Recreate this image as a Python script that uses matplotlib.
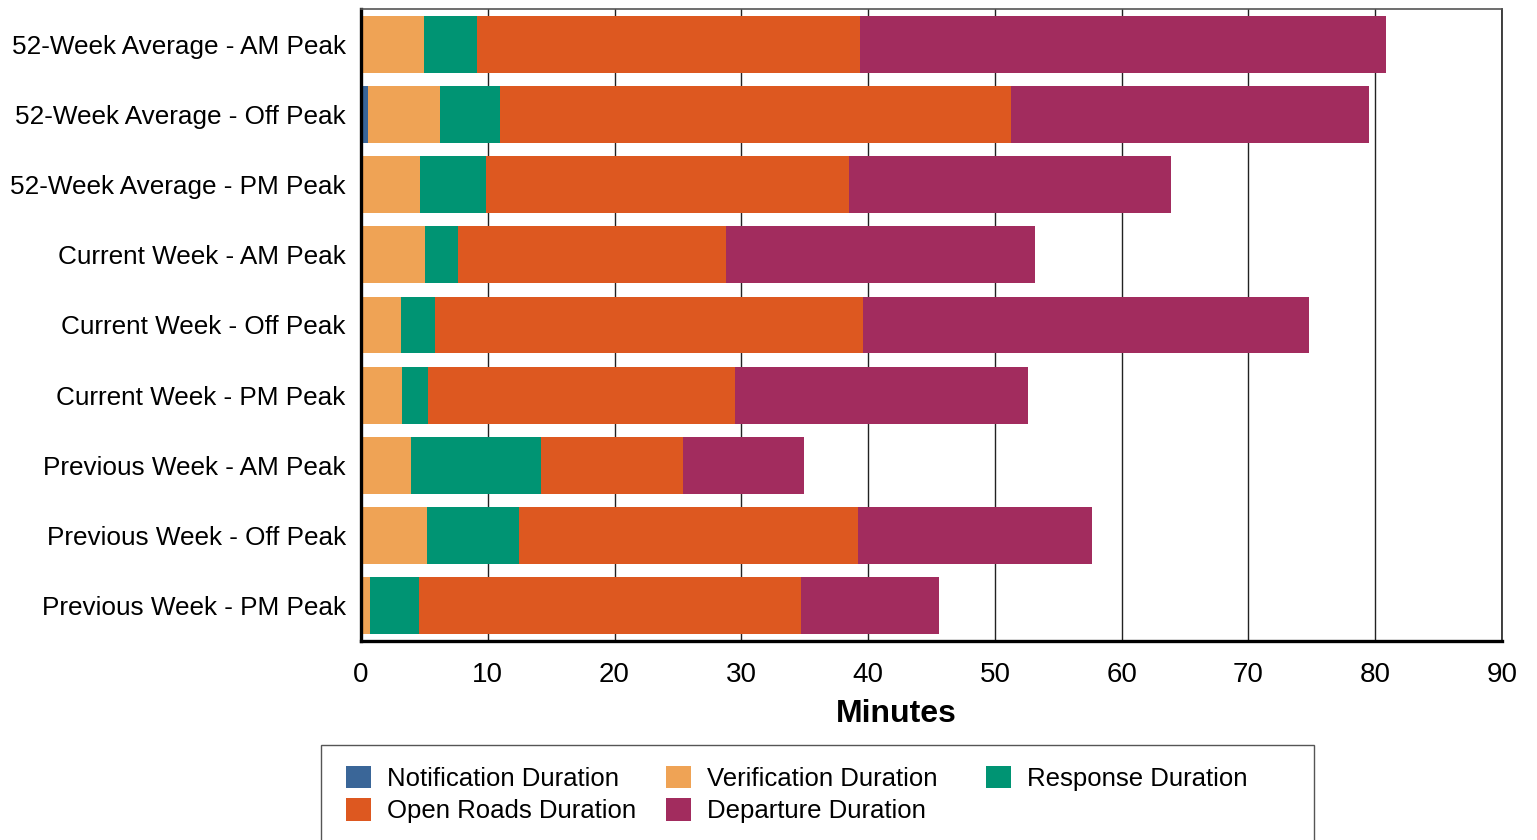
import matplotlib
matplotlib.use("Agg")
import matplotlib.pyplot as plt
from matplotlib.patches import Rectangle, Patch
import numpy as np

plt.rcParams['font.family'] = ['Liberation Sans', 'DejaVu Sans']

categories = [
    "52-Week Average - AM Peak",
    "52-Week Average - Off Peak",
    "52-Week Average - PM Peak",
    "Current Week - AM Peak",
    "Current Week - Off Peak",
    "Current Week - PM Peak",
    "Previous Week - AM Peak",
    "Previous Week - Off Peak",
    "Previous Week - PM Peak",
]

notification = [0.00, 0.55, 0.00, 0.00, 0.00, 0.00, 0.00, 0.00, 0.00]
verification = [4.97, 5.69, 4.66, 5.05, 3.16, 3.24, 3.95, 5.21, 0.71]
response     = [4.19, 4.73, 5.21, 2.61, 2.68, 2.05, 10.26, 7.26, 3.87]
open_roads   = [30.23, 40.27, 28.66, 21.16, 33.79, 24.24, 11.21, 26.70, 30.16]
departure    = [41.45, 28.26, 25.34, 24.38, 35.12, 23.12, 9.55, 18.46, 10.89]

series_names = ["Notification Duration", "Verification Duration", "Response Duration",
                "Open Roads Duration", "Departure Duration"]
series_values = [notification, verification, response, open_roads, departure]
series_colors = ["#3A6698", "#EFA355", "#009473", "#DD5820", "#A22C5E"]

x_ticks = [0, 10, 20, 30, 40, 50, 60, 70, 80, 90]

W, H = 1537, 840
fig = plt.figure(figsize=(W / 100, H / 100), dpi=100)
ax = fig.add_axes([361 / W, 1 - 641 / H, (1502 - 361) / W, (641 - 9) / H])

y = np.arange(len(categories))
left = np.zeros(len(categories))
for name, vals, col in zip(series_names, series_values, series_colors):
    vals = np.asarray(vals, dtype=float)
    ax.barh(y, vals, left=left, height=0.81, color=col, label=name, zorder=2)
    left += vals

ax.set_ylim(len(categories) - 0.5, -0.5)
ax.set_xlim(0, 90)
ax.set_xticks(x_ticks)
ax.set_yticks(y)
ax.set_yticklabels(categories, fontsize=18.8)
ax.tick_params(axis='y', length=0, pad=11)
ax.tick_params(axis='x', length=0, pad=15, labelsize=20)

ax.set_axisbelow(True)
ax.grid(axis='x', color='#222222', linewidth=1.0, zorder=0)
ax.grid(axis='y', visible=False)

ax.spines['left'].set_linewidth(2.4)
ax.spines['left'].set_color('black')
ax.spines['bottom'].set_linewidth(2.4)
ax.spines['bottom'].set_color('black')
ax.spines['top'].set_linewidth(1.2)
ax.spines['top'].set_color('#555555')
ax.spines['right'].set_linewidth(1.2)
ax.spines['right'].set_color('#222222')

ax.set_xlabel("Minutes", fontsize=23, fontweight='bold')
ax.xaxis.set_label_coords(0.469, -0.091)

# Legend box, open at the bottom edge of the figure
fig.patches.append(Rectangle((321 / W, -0.05), (1314 - 321) / W, 0.05 + (840 - 745) / H,
                             transform=fig.transFigure, fill=False,
                             edgecolor='#555555', linewidth=1.0))

handles = {n: Patch(facecolor=c, edgecolor='none') for n, c in zip(series_names, series_colors)}
columns = [
    (346, ["Notification Duration", "Open Roads Duration"]),
    (666, ["Verification Duration", "Departure Duration"]),
    (986, ["Response Duration"]),
]
for x0, names in columns:
    fig.legend([handles[n] for n in names], names,
               loc='upper left', bbox_to_anchor=(x0 / W, 1 - 766 / H),
               bbox_transform=fig.transFigure, frameon=False, fontsize=18.5,
               handlelength=0.97, handleheight=0.97, handletextpad=0.62,
               borderpad=0, borderaxespad=0, labelspacing=0.28)

fig.savefig("out.png", dpi=100)
